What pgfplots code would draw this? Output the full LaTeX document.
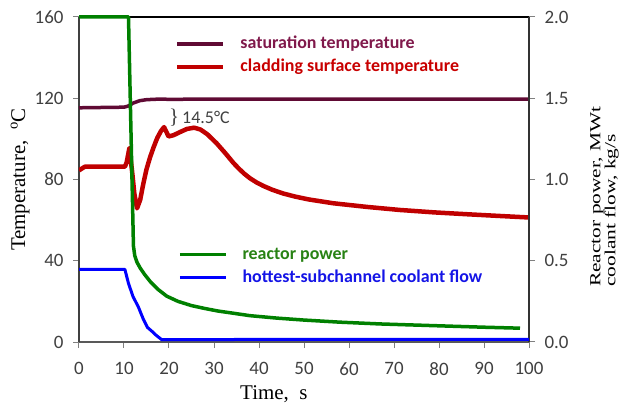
\documentclass[border=0pt]{standalone}
\usepackage{fontspec}
\setmainfont{Liberation Serif}
\newfontfamily\carlito{Carlito}
\usepackage{pgfplots}
\pgfplotsset{compat=1.18}

\definecolor{satcol}{RGB}{96,10,52}
\definecolor{sattext}{RGB}{128,25,75}
\definecolor{redcol}{RGB}{192,0,0}
\definecolor{redtext}{RGB}{200,0,0}
\definecolor{greencol}{RGB}{0,128,0}
\definecolor{greentext}{RGB}{40,130,20}
\definecolor{bluecol}{RGB}{0,0,255}
\definecolor{bluetext}{RGB}{20,20,230}
\definecolor{tickgray}{RGB}{64,64,64}

\pgfplotsset{
  common/.style={
    scale only axis, width=450bp, height=325bp,
    xmin=0, xmax=100,
    tick align=outside, major tick length=6bp,
    tick style={draw=gray, line width=1bp},
    ticklabel style={font=\carlito\fontsize{19}{21}\selectfont, text=tickgray},
    /pgf/number format/assume math mode=true,
    legend cell align=left,
    legend image code/.code={\draw[##1] (0bp,0bp) -- (46bp,0bp);},
  },
  leg/.style={
    draw=none, fill=none, anchor=north west,
    inner sep=0pt, outer sep=0pt, row sep=6bp, column sep=15bp,
    nodes={inner sep=0pt, text height=13bp, text depth=4bp,
           font=\carlito\bfseries\fontsize{18}{20}\selectfont},
  },
}

\begin{document}
\begin{tikzpicture}

\begin{axis}[common, name=ax,
  ymin=0, ymax=160,
  axis x line*=bottom, axis y line*=left,
  xtick={0,10,...,100}, ytick={0,40,...,160},
  xticklabel style={yshift=-11bp},
  yticklabel style={xshift=-6bp},
  x axis line style={-, draw=gray!70!black, line width=1.5bp},
  y axis line style={-, draw=black!75, line width=2bp},
  xlabel={Time,\ \ s},
  xlabel style={at={(axis description cs:0.433,-0.1754)}, anchor=base,
    font=\fontsize{21}{24}\selectfont},
  ylabel={Temperature,\ \ \textsuperscript{o}C},
  ylabel style={at={(axis description cs:-0.12,0.5)}, anchor=base,
    font=\fontsize{21}{24}\selectfont},
  legend style={leg, at={(axis description cs:0.2133,0.943)}},
]
\addplot[satcol, line width=3.5bp, line join=round] coordinates {
  (0,115.3) (10,115.6) (11,116.2) (12,117.6) (13.5,118.8) (15,119.3)
  (18,119.6) (21,119.4) (25,119.6) (40,119.6) (100,119.6)
};
\addlegendentry{\textcolor{sattext}{saturation temperature}}
\addplot[redcol, line width=4.5bp, line join=round] coordinates {
  (0,84.5) (0.5,85.2) (1.3,86.3) (10.2,86.3) (10.6,88.5) (11.2,95.5)
  (11.8,84) (12.3,73) (12.9,65.8) (13.6,70) (14.3,78) (15,85)
  (15.8,91) (16.6,96) (17.4,100.5) (18.2,103.8) (18.9,105.8)
  (19.9,101.2) (21,101.8) (22.4,103.3) (24,104.9) (25.6,105.5)
  (27,104.6) (28.5,102.3) (30.6,97.8) (32.5,93) (34.3,88.2) (35.5,85.4)
  (36.7,82.9) (38,80.6) (39.5,78.5) (41,76.8) (43,74.9) (45.4,73.1)
  (48,71.6) (51,70.2) (56.5,68.3) (64,66.5) (71.3,65) (79,63.8)
  (86.2,62.9) (93,62.1) (100,61.3)
};
\addlegendentry{\textcolor{redtext}{cladding surface temperature}}
\node[anchor=base west, inner sep=0pt, text=tickgray]
  at (axis cs:20.0,107.8)
  {\fontsize{21}{24}\selectfont\}{\carlito\fontsize{18}{20}\selectfont\,14.5°C}};
\end{axis}

\begin{axis}[common, clip=false,
  ymin=0, ymax=2,
  axis x line*=top, axis y line*=right,
  xtick=\empty, ytick={0,0.5,...,2},
  yticklabel style={xshift=6bp,
    /pgf/number format/.cd, fixed, fixed zerofill, precision=1},
  x axis line style={-, draw=black, line width=2bp},
  y axis line style={-, draw=black!80, line width=2bp},
  ylabel={Reactor power, MWt\\coolant flow, kg/s},
  ylabel style={at={(axis description cs:1.1356,0.169)}, anchor=north west,
    align=left, inner sep=0pt, yscale=0.72,
    font=\fontsize{21.5}{21}\selectfont},
  legend style={leg, at={(axis description cs:0.22,0.2948)}},
]
\addplot[greencol, line width=3.5bp, line join=round] coordinates {
  (0,2.0) (11.0,2.0) (12.1,0.59) (12.4,0.53) (12.9,0.49) (13.6,0.455)
  (14.6,0.415) (15.8,0.373) (17.5,0.325) (19.5,0.282) (22,0.25)
  (25,0.224) (28,0.206) (31,0.19) (34.3,0.177) (38,0.162) (44,0.147)
  (50,0.135) (58,0.122) (67,0.111) (75,0.104) (83,0.097) (90,0.091)
  (98,0.085)
};
\addlegendentry{\textcolor{greentext}{reactor power}}
\addplot[bluecol, line width=3bp, line join=round] coordinates {
  (0,0.447) (10.2,0.447) (11.0,0.36) (12.0,0.28) (13.2,0.215)
  (14.3,0.14) (15.2,0.09) (16.2,0.066) (17.2,0.04) (18.4,0.014)
  (25,0.015) (50,0.016) (100,0.016)
};
\addlegendentry{\textcolor{bluetext}{hottest-subchannel coolant flow}}
\end{axis}

\pgfresetboundingbox
\path[use as bounding box] ([shift={(-79bp,-62bp)}]ax.south west)
  rectangle ([shift={(96bp,17bp)}]ax.north east);
\end{tikzpicture}
\end{document}
